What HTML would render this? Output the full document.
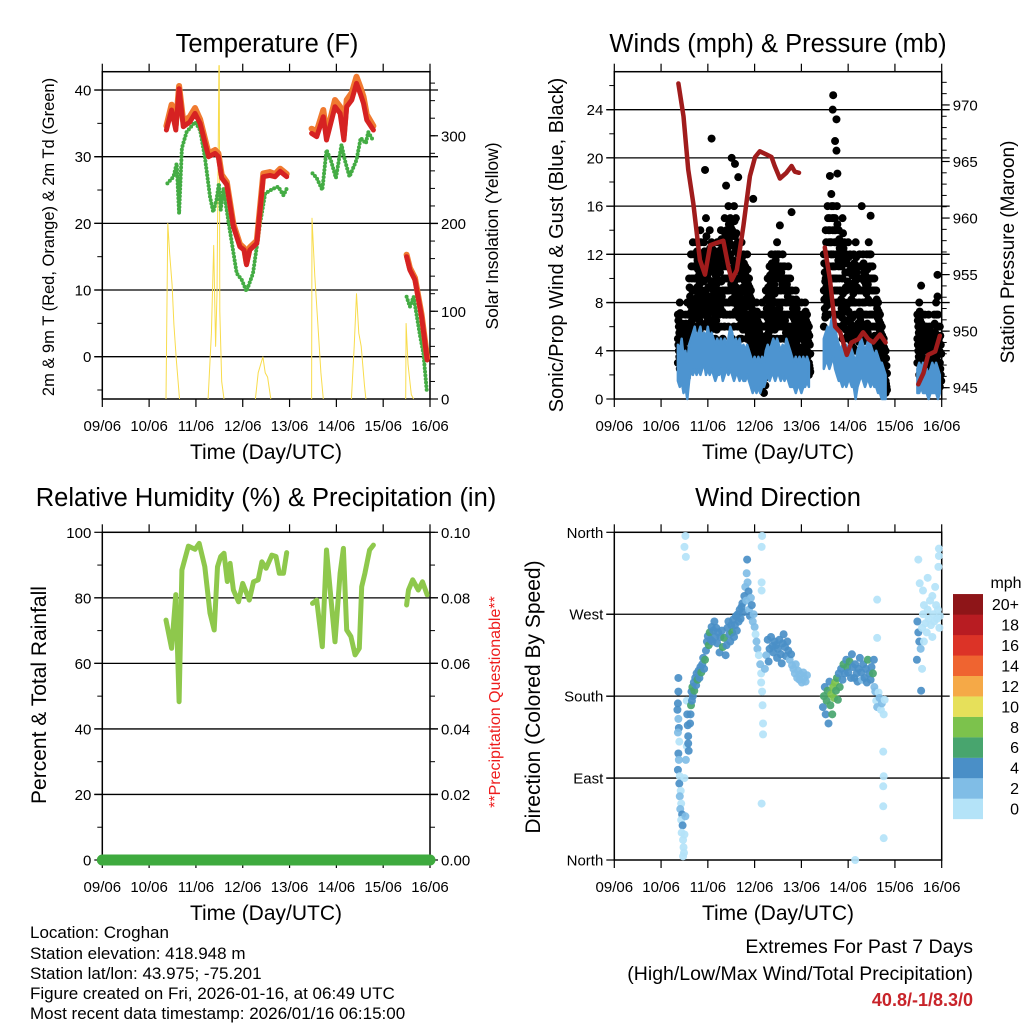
<!DOCTYPE html>
<html><head><meta charset="utf-8"><style>
html,body{margin:0;padding:0;background:#fff;}
svg text{font-family:"Liberation Sans",Arial,sans-serif;}
</style></head><body>
<svg id="fig" xmlns="http://www.w3.org/2000/svg" width="1024" height="1024" viewBox="0 0 1024 1024">
<rect width="1024" height="1024" fill="#fff"/>
<g id="layer"></g>
<g font-size="25.5" text-anchor="middle" fill="#000">
<text x="267" y="52">Temperature (F)</text>
<text x="778" y="52">Winds (mph) &amp; Pressure (mb)</text>
<text x="266" y="506">Relative Humidity (%) &amp; Precipitation (in)</text>
<text x="778" y="506">Wind Direction</text>
</g>
<g font-size="21" text-anchor="middle" fill="#000">
<text x="266" y="459">Time (Day/UTC)</text>
<text x="778" y="459">Time (Day/UTC)</text>
<text x="266" y="920">Time (Day/UTC)</text>
<text x="778" y="920">Time (Day/UTC)</text>
<text transform="translate(54,237) rotate(-90)" font-size="16.5">2m &amp; 9m T (Red, Orange) &amp; 2m Td (Green)</text>
<text transform="translate(498,236) rotate(-90)" font-size="17.5">Solar Insolation (Yellow)</text>
<text transform="translate(563,245) rotate(-90)" font-size="20">Sonic/Prop Wind &amp; Gust (Blue, Black)</text>
<text transform="translate(1014,252) rotate(-90)" font-size="19">Station Pressure (Maroon)</text>
<text transform="translate(46,695) rotate(-90)">Percent &amp; Total Rainfall</text>
<text transform="translate(500,702) rotate(-90)" font-size="16" fill="#ee1c1c">**Precipitation Questionable**</text>
<text transform="translate(540,697) rotate(-90)">Direction (Colored By Speed)</text>
</g>
<g font-size="17" fill="#000">
<text x="30" y="938">Location: Croghan</text>
<text x="30" y="959">Station elevation: 418.948 m</text>
<text x="30" y="979">Station lat/lon: 43.975; -75.201</text>
<text x="30" y="999">Figure created on Fri, 2026-01-16, at 06:49 UTC</text>
<text x="30" y="1019">Most recent data timestamp: 2026/01/16 06:15:00</text>
</g>
<g text-anchor="end">
<text x="973" y="953" font-size="19.5">Extremes For Past 7 Days</text>
<text x="973" y="980" font-size="19.5">(High/Low/Max Wind/Total Precipitation)</text>
<text x="973" y="1006" font-size="18" font-weight="bold" fill="#c8242a">40.8/-1/8.3/0</text>
</g>
</svg>
<script>
// ---------- DATA ----------
const dayLabels=["09/06","10/06","11/06","12/06","13/06","14/06","15/06","16/06"];
const tempT=[1.37,1.48,1.57,1.64,1.73,1.87,1.98,2.09,2.27,2.41,2.48,2.55,2.66,2.80,2.94,3.03,3.08,3.15,3.30,3.44,3.58,3.69,3.80,3.94,null,4.47,4.58,4.72,4.79,4.97,5.08,5.16,5.22,5.33,5.43,5.51,5.58,5.65,5.79,null,6.50,6.57,6.68,6.82,6.94];
const temp2m=[34,37,34,40.2,34.5,35.2,36.5,35,30,30.5,30,26.8,25.8,19.5,16.5,16,13.8,16,17,27,27.2,27,27.8,27,null,33.5,33,36,32.5,37.5,36.5,32.5,37.5,38.5,41,39.5,38,35.5,34,null,15,13,11.5,6,-0.5];
const temp9m=[34.6,37.8,34.8,40.6,35.3,36,37.3,35.6,30.5,31,30.5,27.3,26.2,19.9,16.9,16.3,14.1,16.4,17.4,27.5,27.7,27.4,28.2,27.4,null,34.2,33.8,37,33.3,38.5,37.5,33.3,38.5,39.6,42,40.5,39,36.3,34.6,null,15.3,13.3,11.8,6.3,-0.2];
const dewT=[1.39,1.52,1.59,1.64,1.70,1.80,1.98,2.09,2.19,2.30,2.37,2.44,2.49,2.53,2.59,2.69,2.87,2.98,3.08,3.22,3.37,3.48,3.65,3.76,3.87,3.94,null,4.49,4.58,4.70,4.79,4.88,4.99,5.11,5.18,5.28,5.43,5.52,5.63,5.68,5.78,null,6.50,6.57,6.65,6.79,6.86,6.93];
const dewV=[26,27,29,21.5,31.3,33.7,35.2,34,30,24,21.7,23.5,26,22,25.2,20.5,12.5,11.5,9.8,12.5,20,24.5,25.2,25.5,24.2,25.2,null,27.5,26.8,25,31,29.5,26.8,31.8,29.5,27,29.5,32.8,32,33.7,32.5,null,9,7.5,9,3,0.5,-5];
const solarT=[1.36,1.40,1.44,1.49,1.53,1.58,1.62,1.65,null,2.26,2.33,2.38,2.42,2.45,2.49,2.50,2.51,2.55,2.60,null,3.27,3.33,3.43,3.48,3.53,3.60,null,4.47,4.48,4.54,4.60,4.67,4.72,null,5.32,5.38,5.43,5.48,5.53,5.60,5.63,null,6.48,6.49,6.53,6.60,6.65];
const solarV=[0,200,165,130,85,45,20,0,null,0,75,175,60,120,380,380,100,20,0,null,0,30,48,30,25,0,null,0,206,140,90,30,0,null,0,60,120,75,60,15,0,null,0,86,40,5,0];
// winds
const gustT=[1.36,1.40,1.44,1.48,1.52,1.56,1.60,1.64,1.68,1.72,1.76,1.80,1.84,1.88,1.92,1.96,2.00,2.04,2.08,2.12,2.16,2.20,2.24,2.28,2.32,2.36,2.40,2.44,2.48,2.52,2.56,2.60,2.64,2.68,2.72,2.76,2.80,2.84,2.88,2.92,2.96,3.00,3.04,3.08,3.12,3.16,3.20,3.24,3.28,3.32,3.36,3.40,3.44,3.48,3.52,3.56,3.60,3.64,3.68,3.72,3.76,3.80,3.84,3.88,3.92,3.96,4.00,4.04,4.08,4.12,4.16,null,
4.48,4.52,4.56,4.60,4.64,4.68,4.72,4.76,4.80,4.84,4.88,4.92,4.96,5.00,5.04,5.08,5.12,5.16,5.20,5.24,5.28,5.32,5.36,5.40,5.44,5.48,5.52,5.56,5.60,5.64,5.68,5.72,5.76,5.80,null,
6.48,6.52,6.56,6.60,6.64,6.68,6.72,6.76,6.80,6.84,6.88,6.92,6.96];
const gustHi=[7,8,7,6,7,8,10,12,13,12,13,11,14,12,13,15,12,14,13,12,11,13,12,14,13,15,14,16,15,14,16,15,13,12,13,12,11,12,10,9,8,7,8,7,6,8,7,9,10,11,12,11,12,13,12,11,12,11,10,11,10,9,8,9,8,7,8,7,8,7,6,null,
12,14,16,15,17,16,15,16,14,13,15,13,12,13,12,11,12,13,11,12,11,12,11,12,13,12,11,10,9,8,7,6,5,4,null,
7,8,7,6,7,6,7,6,5,7,8,7,6];
const gustMid=[5,4.5,4,3.5,4,4,7,8,9,8,10,8,10,9,10,9,10,8,11,9,8,10,9,11,9,10,11,10,12,9,11,10,9,10,8,9,8,7,7,6,5,4,5,4,3,4,3,6,7,8,9,8,10,9,8,9,8,7,8,7,6,6,5,6,4,5,4,4,5,4,3,null,
9,10,12,11,13,12,11,10,11,9,10,8,9,8,7,8,9,8,7,8,7,9,8,7,9,8,7,6,6,5,4,3,2,1.5,null,
5,5,4,4,3,4,3,4,3,4,4,3,3];
const gustLo=[3,2.5,2,1.5,1,2,4,5,6,4,7,5,6,7,5,6,7,5,6,6,5,6,7,6,5,6,7,6,7,5,6,7,6,5,5,6,4,5,4,3,3,2,3,2,1.5,1,0.5,3,4,5,6,5,6,5,6,5,4,5,4,3,4,3,2,3,2,2,1.5,2,3,2,2,null,
6,7,8,7,9,8,7,6,7,6,5,5,4,5,4,3,5,4,4,5,4,5,4,4,5,4,3,3,3,2,2,1,1,0.5,null,
3,2,2,1.5,2,1,1.5,2,1,2,1.5,1,1];
const gustOutT=[2.08,1.94,2.51,2.58,2.39,2.65,2.97,3.79,3.54,4.68,4.67,4.75,4.72,4.75,4.61,4.77,5.29,5.48,6.91,6.56,6.91];
const gustOutV=[21.6,19,20,19.5,17.7,18.4,16.6,15.5,14.4,25.2,24,23.2,21.4,20.6,18.5,18.7,16,15.2,10.3,9.4,8.5];
const windHi=[4.5,4,5,3.5,4,3,4.5,5,5.5,6,5,5.5,6,5,5.5,5,6,5,5.5,5,4.5,5,4.5,5,4.5,5,4.5,5,6,5.5,4.5,5,4.5,5,4,4.5,4,4.5,4,3.5,3,3.5,3,3.5,3,3.5,3,4,4.5,4,4.5,5,4.5,5,4.5,4,4.5,4,5,4.5,4,3.5,3,3.5,3,3.5,3,3.5,3,3.5,3,null,
5,5.5,6,5.5,6.5,7,6,5,4.5,4,4.5,4,4.5,4,4.5,4,3.5,3,4,4.5,5,4.5,4,4.5,5,4.5,4,3.5,4,3.5,3,3,2.5,2,null,
2.5,3,2.5,3,2,2.5,2,2.5,3,2.5,3,2.5,2];
const windLo=[1.5,1,1.5,0.5,1,0,1.5,2.5,2,2.5,2,2.5,2,2.5,3,2,2.5,2,2.5,2,1.5,2,2,2.5,1.5,2,2.5,2,2.5,2,1.5,2,2,1.5,2,1.5,1.5,2,1.5,1,0.5,1,0.5,1,0.5,1,1,1.5,2,1.5,2,2,1.5,2,2,1.5,2,1.5,2,1.5,1,1,1,0.5,1,1,0.5,1,1,1.5,1,null,
2.5,3,3,2.5,3,3.5,2.5,2,1.5,1.5,1,1.5,1,1.5,1.5,1,1,0,1,1.5,2,1.5,1,1.5,1.5,1,1.5,1,1,0.5,0.5,0,0,0,null,
0.5,0.5,1,0.5,0.5,0.5,0,0.5,0.5,0.5,0.5,0,0.5];
const presT=[1.37,1.48,1.58,1.69,1.83,1.94,2.05,2.19,2.33,2.44,2.51,2.62,2.76,2.90,3.01,3.11,3.26,3.36,3.43,3.54,3.68,3.79,3.86,3.95,null,4.50,4.61,4.72,4.83,4.97,5.07,5.22,5.32,5.43,5.54,5.68,5.80,null,6.50,6.61,6.71,6.86,6.96];
const presV=[971.9,969,964.3,961.3,956.3,955,957.6,957.8,958,955.7,954.5,955.4,959.3,963.7,965.4,965.9,965.6,965.4,964.6,963.5,964,964.6,964.1,964,null,957.4,954.6,950.4,949.9,947.9,949,949.3,949.9,949.3,949,949.7,949,null,945.3,946.3,947.9,948.2,949.6];
// humidity
const rhT=[1.36,1.48,1.57,1.64,1.70,1.84,1.98,2.07,2.19,2.30,2.39,2.46,2.53,2.60,2.67,2.73,2.80,2.91,3.00,3.14,3.23,3.33,3.41,3.50,3.62,3.71,3.78,3.87,3.94,null,4.49,4.58,4.70,4.79,4.90,4.97,5.08,5.15,5.22,5.31,5.40,5.49,5.54,5.61,5.71,5.79,null,6.50,6.54,6.63,6.75,6.84,6.94];
const rhV=[73.2,64.6,81,48.3,88.5,95.8,94.8,96.6,89.5,75.3,70.2,89.5,92.6,93.6,85,90.5,82.4,78.8,84.4,79.3,84.9,85.5,91,89,93,92.6,87.5,87.5,93.8,null,78.3,79.3,65.1,94.6,77.3,66.6,87.5,95.1,70.2,68.2,62.6,64.6,83.4,87.5,94.6,96.1,null,77.8,82.4,85.5,82.4,84.9,80.9];
const precipT=[0,7];
const precipV=[0,0];
// wind direction
const dirT=[1.37,1.37,1.36,1.35,1.37,1.38,1.36,1.39,1.37,1.38,1.36,1.40,1.39,1.42,1.40,1.43,1.41,1.45,1.43,1.46,1.44,1.47,1.48,1.49,1.47,1.50,1.52,1.50,1.53,1.55,1.55,1.56,1.57,1.58,1.58,1.59,1.52,1.50,1.53,
1.62,1.63,1.64,1.66,1.65,1.67,1.68,1.70,1.71,1.73,1.75,1.76,1.78,1.80,1.82,1.84,
1.86,1.88,1.90,1.92,1.94,1.96,1.98,2.00,2.02,2.04,2.06,2.08,2.10,2.12,2.14,
2.16,2.18,2.20,2.22,2.25,2.27,2.30,2.32,2.35,2.38,2.40,2.42,2.44,2.46,2.48,2.50,2.52,2.54,2.56,2.58,2.60,2.62,2.64,2.66,2.68,2.70,2.72,
2.74,2.76,2.78,2.80,2.82,2.83,2.84,2.85,2.87,2.88,2.90,2.92,2.94,2.96,2.98,
3.00,3.02,3.04,3.06,3.09,3.12,3.14,3.14,3.16,3.17,3.18,3.18,3.15,3.16,3.15,3.15,3.15,3.22,3.25,3.28,3.30,3.32,
3.35,3.38,3.40,3.43,3.46,3.48,3.50,3.53,3.56,3.58,3.60,3.62,3.65,3.67,3.70,3.72,3.75,3.78,
3.80,3.83,3.86,3.88,3.91,3.93,3.96,3.98,4.01,4.04,4.06,4.09,4.12,
4.46,4.48,4.50,4.52,4.54,4.56,4.58,4.60,4.62,4.64,4.66,4.68,
4.70,4.72,4.74,4.76,4.78,4.80,4.82,4.85,4.88,4.90,4.93,4.96,4.98,5.00,5.03,5.06,5.08,
5.10,5.13,5.15,5.18,5.20,5.22,5.25,5.28,5.30,5.32,5.35,5.38,5.40,5.42,5.45,5.48,5.50,5.53,5.55,
5.56,5.58,5.60,5.62,5.65,5.67,5.70,5.72,5.76,5.78,5.75,5.76,5.75,5.75,5.76,5.62,5.62,5.15,
6.48,6.50,6.52,6.55,6.56,6.58,6.60,6.62,6.65,6.68,6.70,6.72,6.75,6.77,6.80,6.82,6.84,6.86,6.88,6.90,6.92,6.95,6.96,6.53,6.60,6.94,6.94,6.93,6.50,6.70,6.62,6.80,6.47,6.58];
const dirDeg=[200,185,172,165,155,145,140,130,117,110,99,92,84,76,70,62,56,50,44,38,30,22,14,8,4,28,48,90,110,125,175,160,148,136,128,120,356,344,333,
150,160,170,175,185,190,180,195,186,200,192,205,198,208,200,212,
206,215,222,210,220,230,240,246,236,250,242,256,240,252,262,
245,255,238,250,228,245,252,234,244,225,236,255,262,248,240,258,250,264,245,258,268,252,270,262,275,265,278,
282,272,290,300,285,315,330,305,295,275,268,288,280,262,270,
256,248,240,232,225,215,205,195,185,170,150,138,62,356,344,305,296,210,225,242,218,232,
245,235,228,240,236,222,232,242,226,216,238,248,234,224,240,230,220,226,
214,210,205,215,200,208,198,204,195,206,200,196,203,
168,180,190,160,175,186,150,196,170,182,160,190,
178,195,186,200,176,205,190,210,198,215,205,220,212,206,218,200,226,
212,200,215,205,196,210,222,206,198,215,200,210,195,220,205,198,212,205,220,
190,185,175,168,184,178,165,172,160,176,119,92,81,59,24,286,244,0,
262,250,240,232,186,255,270,280,260,250,275,265,285,258,290,270,262,300,280,265,275,255,268,304,296,342,334,322,330,310,240,245,220,210];
const dirSpd=[5,5,5,5,3,5,3,1,5,3,5,1,5,1,3,1,3,5,1,5,1,1,1,1,1,1,3,1,3,1,1,5,5,5,5,5,1,1,1,
5,5,7,5,5,7,5,5,7,5,5,5,7,5,5,5,
7,5,5,5,7,5,5,5,7,7,5,5,5,5,5,
5,5,5,5,5,5,5,7,7,5,5,5,5,5,5,5,7,5,5,5,5,5,5,5,5,5,5,
5,5,5,3,3,3,5,3,5,3,5,3,5,3,3,
3,1,3,3,1,3,1,1,1,1,1,1,1,1,1,1,1,3,3,5,5,5,
5,5,5,5,5,5,5,5,5,5,5,5,5,5,5,5,3,5,
3,3,3,3,3,3,3,3,3,3,3,3,3,
5,7,5,5,7,7,5,5,7,9,7,9,
9,9,7,7,7,5,7,5,5,7,5,5,7,5,7,5,5,
5,5,5,5,5,5,5,5,3,5,5,5,5,7,5,5,5,7,5,
3,3,1,3,1,3,1,3,1,1,1,1,1,1,1,1,1,1,
5,5,5,3,5,1,1,1,1,1,1,1,1,1,1,1,1,1,1,1,1,1,1,1,1,1,1,1,1,1,1,1,5,1];
const legendLabels=["0","2","4","6","8","10","12","14","16","18","20+"];
const legendColors=["#b4e3f8","#80bde6","#4a8fc7","#48a56e","#7cc24c","#e6e05a","#f5a947","#ef6430","#dc3327","#b81c22","#8e1518"];

// ---------- DRAWING ----------
const NS="http://www.w3.org/2000/svg";
const layer=document.getElementById('layer');
function mk(tag,attrs,parent){const e=document.createElementNS(NS,tag);for(const k in attrs)e.setAttribute(k,attrs[k]);(parent||layer).appendChild(e);return e;}
function panel(x0,x1,y0,y1){return {x0,x1,y0,y1,sx:d=>x0+d/7*(x1-x0)};}
function yScale(p,lo,hi){return v=>p.y1-(v-lo)/(hi-lo)*(p.y1-p.y0);}
function pathFrom(ts,vs,sx,sy){let d="",pen=false;for(let i=0;i<ts.length;i++){if(ts[i]===null||vs[i]===null){pen=false;continue;}d+=(pen?"L":"M")+sx(ts[i]).toFixed(1)+","+sy(vs[i]).toFixed(1);pen=true;}return d;}

const P1=panel(102.3,430,71.7,399), P2=panel(614.3,941.7,71.7,399), P3=panel(102.3,430,532.3,860), P4=panel(614.3,941.7,532.3,860);
const TF=15;
function frame(p,name,leftMaj,leftMin,ly,leftLab,rightMaj,rightMin,ry,rightLab,grid){
  const g=mk('g',{});
  
  
  grid.forEach(v=>{const y=ly(v);const l=mk('line',{x1:p.x0-8,x2:p.x1+8,y1:y,y2:y,stroke:'#000','stroke-width':1.3},g);
    });
  for(let d=0;d<=7;d++){const x=p.sx(d);
    mk('line',{x1:x,x2:x,y1:p.y0,y2:p.y0-8,stroke:'#000','stroke-width':1.2},g);
    mk('line',{x1:x,x2:x,y1:p.y1,y2:p.y1+8,stroke:'#000','stroke-width':1.2},g);
    const t=mk('text',{x:x,y:p.y1+32,'font-size':TF,'text-anchor':'middle'},g);t.textContent=dayLabels[d];
    }
  leftMaj.forEach((v,i)=>{const y=ly(v);mk('line',{x1:p.x0,x2:p.x0-8,y1:y,y2:y,stroke:'#000','stroke-width':1.2},g);
    const t=mk('text',{x:p.x0-11,y:y+5.5,'font-size':TF,'text-anchor':'end'},g);t.textContent=leftLab[i];
    });
  leftMin.forEach(v=>{const y=ly(v);mk('line',{x1:p.x0,x2:p.x0-5,y1:y,y2:y,stroke:'#000','stroke-width':1},g);});
  if(ry){rightMaj.forEach((v,i)=>{const y=ry(v);mk('line',{x1:p.x1,x2:p.x1+8,y1:y,y2:y,stroke:'#000','stroke-width':1.2},g);
    const t=mk('text',{x:p.x1+11,y:y+5.5,'font-size':TF,'text-anchor':'start'},g);t.textContent=rightLab[i];
    });
    rightMin.forEach(v=>{const y=ry(v);mk('line',{x1:p.x1,x2:p.x1+5,y1:y,y2:y,stroke:'#000','stroke-width':1},g);});}
  const r=mk('rect',{x:p.x0,y:p.y0,width:p.x1-p.x0,height:p.y1-p.y0,fill:'none',stroke:'#000','stroke-width':1.5},g);
  
}
function range(a,b,s){const r=[];for(let v=a;v<=b+1e-9;v+=s)r.push(+v.toFixed(4));return r;}

// ---- Panel 1: temperature
const tY=yScale(P1,-6.35,42.75), sY=yScale(P1,0,373);
frame(P1,'temperature',[0,10,20,30,40],[-5,5,15,25,35],tY,["0","10","20","30","40"],[0,100,200,300],range(0,360,20),sY,["0","100","200","300"],[0,10,20,30,40]);
let e;
e=mk('path',{d:pathFrom(solarT,solarV,P1.sx,sY),fill:'none',stroke:'#f8dc4c','stroke-width':1,'stroke-linejoin':'round'});

e=mk('path',{d:pathFrom(dewT,dewV,P1.sx,tY),fill:'none',stroke:'#44ac44','stroke-width':4,'stroke-linecap':'round','stroke-dasharray':'0 3.6'});

e=mk('path',{d:pathFrom(tempT,temp9m,P1.sx,tY),fill:'none',stroke:'#f07a30','stroke-width':6,'stroke-linejoin':'round','stroke-linecap':'round'});

e=mk('path',{d:pathFrom(tempT,temp2m,P1.sx,tY),fill:'none',stroke:'#d62222','stroke-width':5,'stroke-linejoin':'round','stroke-linecap':'round'});


// ---- Panel 2: winds
const wY=yScale(P2,0,27.15), pY=yScale(P2,944.0,972.94);
frame(P2,'winds',[0,4,8,12,16,20,24],[2,6,10,14,18,22,26],wY,["0","4","8","12","16","20","24"],[945,950,955,960,965,970],range(944,972,1),pY,["945","950","955","960","965","970"],[4,8,12,16,20,24]);
const gg=mk('g',{});
function gdot(t,v){const c=mk('circle',{cx:P2.sx(t),cy:wY(v),r:4,fill:'#000'},gg);
  }
for(let i=0;i<gustT.length;i++){if(gustT[i]===null)continue;
  const h=gustHi[i],m=gustMid[i],l=gustLo[i];
  gdot(gustT[i],h);gdot(gustT[i],m);gdot(gustT[i],l);
  gdot(gustT[i]+0.02,(h+m)/2);gdot(gustT[i]+0.02,(m+l)/2);
  gdot(gustT[i]+0.01,(3*h+m)/4);gdot(gustT[i]+0.03,(h+3*m)/4);
  gdot(gustT[i]+0.01,(3*m+l)/4);gdot(gustT[i]+0.03,(m+3*l)/4);}
for(let i=0;i<gustOutT.length;i++)gdot(gustOutT[i],gustOutV[i]);
(function(){let seg=[];const g=mk('g',{});
  const flush=()=>{if(seg.length>1){let d="M"+seg.map(i=>P2.sx(gustT[i]).toFixed(1)+","+wY(windHi[i]).toFixed(1)).join("L");
  d+="L"+seg.slice().reverse().map(i=>P2.sx(gustT[i]).toFixed(1)+","+wY(windLo[i]).toFixed(1)).join("L")+"Z";
  const c=mk('path',{d:d,fill:'#4d94d0',stroke:'#4d94d0','stroke-width':2.5,'stroke-linejoin':'round'},g);}seg=[];};
  for(let i=0;i<gustT.length;i++){if(gustT[i]===null){flush();continue;}seg.push(i);}flush();})();
e=mk('path',{d:pathFrom(presT,presV,P2.sx,pY),fill:'none',stroke:'#a01c1c','stroke-width':4.5,'stroke-linejoin':'round','stroke-linecap':'round'});


// ---- Panel 3: humidity
const hY=yScale(P3,0,100), prY=yScale(P3,0,0.1);
frame(P3,'humidity',[0,20,40,60,80,100],[10,30,50,70,90],hY,["0","20","40","60","80","100"],[0,0.02,0.04,0.06,0.08,0.1],range(0,0.1,0.01),prY,["0.00","0.02","0.04","0.06","0.08","0.10"],[20,40,60,80]);
e=mk('path',{d:pathFrom(rhT,rhV,P3.sx,hY),fill:'none',stroke:'#8ec84c','stroke-width':5,'stroke-linejoin':'round','stroke-linecap':'round'});

e=mk('path',{d:pathFrom(precipT,precipV,P3.sx,prY),fill:'none',stroke:'#3eaa3e','stroke-width':11,'stroke-linecap':'round'});


// ---- Panel 4: wind direction
const dY=yScale(P4,0,360);
frame(P4,'direction',[0,90,180,270,360],[],dY,["North","East","South","West","North"],[],[],null,[],[90,180,270]);
function spdColor(s){let k=Math.floor(s/2);if(k>10)k=10;if(k<0)k=0;return legendColors[k];}
const dg=mk('g',{});
for(let i=0;i<dirT.length;i++){const c=mk('circle',{cx:P4.sx(dirT[i]),cy:dY(dirDeg[i]),r:4,fill:spdColor(dirSpd[i]),'fill-opacity':0.92},dg);
  }
const lg=mk('g',{});
const lt=mk('text',{x:1006,y:588,'font-size':16,'text-anchor':'middle'},lg);lt.textContent='mph';

for(let k=0;k<legendLabels.length;k++){const y=819-(k+1)*20.45;
  const r=mk('rect',{x:953,y:y,width:30,height:20.6,fill:legendColors[k]},lg);
  
  const t=mk('text',{x:1019,y:y+16,'font-size':16,'text-anchor':'end'},lg);t.textContent=legendLabels[k];
  }
</script>
</body></html>
